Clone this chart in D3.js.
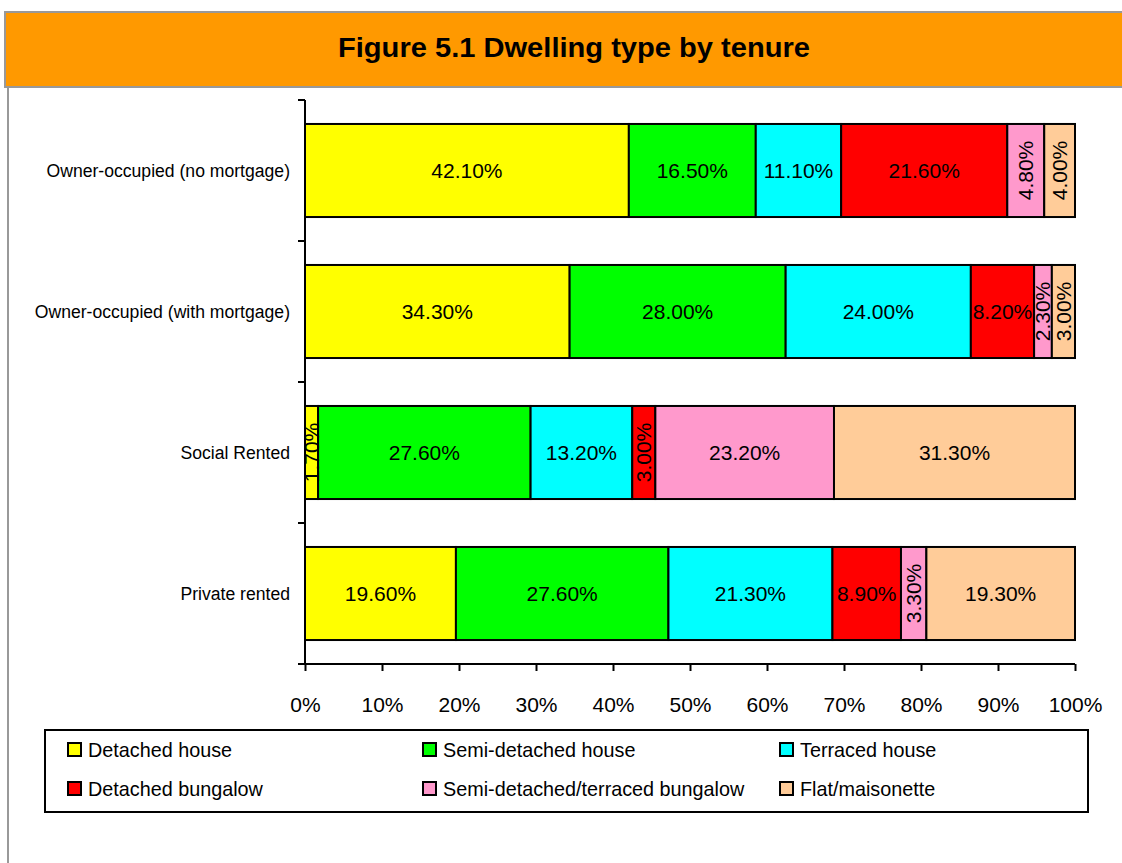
<!DOCTYPE html>
<html lang="en">
<head>
<meta charset="UTF-8">
<title>Dwelling type by tenure</title>
<script src="https://d3js.org/d3.v7.min.js"></script>
<style>
    body{ margin:0; background:#fff; }
    text{ font-family: Arial, "Liberation Sans", sans-serif; }
</style>
</head>
<body>
<svg id="chart" width="1122" height="863"></svg>
<script>
    // data
    let tenures = ["Owner-occupied (no mortgage)", "Owner-occupied (with mortgage)", "Social Rented", "Private rented"];
    let dwellingTypes = ["Detached house", "Semi-detached house", "Terraced house",
        "Detached bungalow", "Semi-detached/terraced bungalow", "Flat/maisonette"];
    let colours = ["#FFFF00", "#00FF00", "#00FFFF", "#FF0000", "#FF99CC", "#FFCC99"];
    let detached     = [42.1, 34.3, 1.7, 19.6];
    let semiDetached = [16.5, 28.0, 27.6, 27.6];
    let terraced     = [11.1, 24.0, 13.2, 21.3];
    let detBungalow  = [21.6, 8.2, 3.0, 8.9];
    let semiBungalow = [4.8, 2.3, 23.2, 3.3];
    let flat         = [4.0, 3.0, 31.3, 19.3];
    let xTicks = [0, 0.1, 0.2, 0.3, 0.4, 0.5, 0.6, 0.7, 0.8, 0.9, 1];

    let series = [detached, semiDetached, terraced, detBungalow, semiBungalow, flat];

    let svg = d3.select("#chart");

    // header band
    svg.append("rect")
        .attr("x", 5).attr("y", 12)
        .attr("width", 1130).attr("height", 75)
        .attr("fill", "#FF9900")
        .attr("stroke", "#999").attr("stroke-width", 2);
    svg.append("line")
        .attr("x1", 8).attr("x2", 8).attr("y1", 87).attr("y2", 863)
        .attr("stroke", "#999").attr("stroke-width", 2);
    svg.append("text")
        .attr("x", 574).attr("y", 57)
        .attr("text-anchor", "middle")
        .attr("font-size", 28).attr("font-weight", "bold")
        .attr("textLength", 472).attr("lengthAdjust", "spacingAndGlyphs")
        .text("Figure 5.1 Dwelling type by tenure");

    // scales
    let x = d3.scaleLinear().domain([0, 1]).range([305, 1075]);
    let y = d3.scaleBand().domain(tenures).range([100, 664]).paddingInner(0.34).paddingOuter(0.17);

    // rows as table, normalised to 100%
    let rows = tenures.map(function (t, i) {
        let row = {tenure: t};
        let total = d3.sum(series, s => s[i]);
        dwellingTypes.forEach(function (k, j) {
            row[k] = series[j][i] / total;
            row["raw_" + k] = series[j][i];
        });
        return row;
    });

    let stack = d3.stack().keys(dwellingTypes)(rows);

    let layers = svg.append("g").selectAll("g")
        .data(stack)
        .join("g")
        .attr("fill", (d, i) => colours[i]);

    layers.selectAll("rect")
        .data(d => d)
        .join("rect")
        .attr("x", d => x(d[0]))
        .attr("width", d => x(d[1]) - x(d[0]))
        .attr("y", d => y(d.data.tenure))
        .attr("height", y.bandwidth())
        .attr("stroke", "#000")
        .attr("stroke-width", 2);

    // data labels
    stack.forEach(function (layer) {
        layer.forEach(function (d) {
            let v = d.data["raw_" + layer.key];
            let cx = (x(d[0]) + x(d[1])) / 2;
            let cy = y(d.data.tenure) + y.bandwidth() / 2;
            let t = svg.append("text")
                .attr("font-size", 21)
                .attr("text-anchor", "middle")
                .attr("dy", "0.35em")
                .text(v.toFixed(2) + "%");
            if (v < 5) {
                t.attr("transform", "translate(" + cx + "," + cy + ") rotate(-90)");
            } else {
                t.attr("x", cx).attr("y", cy);
            }
        });
    });

    // y axis
    let yAxis = svg.append("g");
    yAxis.append("line")
        .attr("x1", 305).attr("x2", 305).attr("y1", 100).attr("y2", 664)
        .attr("stroke", "#000").attr("stroke-width", 2);
    let bounds = tenures.map(t => y(t) - y.step() * y.paddingInner() / 2);
    bounds.push(664);
    yAxis.selectAll(".ytick")
        .data(bounds)
        .join("line")
        .attr("x1", 298).attr("x2", 305)
        .attr("y1", d => d).attr("y2", d => d)
        .attr("stroke", "#000").attr("stroke-width", 2);
    yAxis.selectAll(".ylab")
        .data(tenures)
        .join("text")
        .attr("x", 290)
        .attr("y", d => y(d) + y.bandwidth() / 2)
        .attr("dy", "0.35em")
        .attr("text-anchor", "end")
        .attr("font-size", 17.6)
        .text(d => d);

    // x axis
    let xAxis = svg.append("g").attr("transform", "translate(0,664)")
        .call(d3.axisBottom(x).tickValues(xTicks).tickFormat(d3.format(".0%")).tickSize(7).tickPadding(26));
    xAxis.select(".domain").remove();
    xAxis.append("line").attr("x1", 298).attr("x2", 1075).attr("stroke", "#000").attr("stroke-width", 2);
    xAxis.selectAll(".tick line").attr("stroke-width", 2);
    xAxis.selectAll(".tick text").attr("font-size", 21).attr("font-family", "Arial, 'Liberation Sans', sans-serif").attr("fill", "#000");

    // legend
    let legend = svg.append("g");
    legend.append("rect")
        .attr("x", 45).attr("y", 730).attr("width", 1043).attr("height", 82)
        .attr("fill", "#fff").attr("stroke", "#000").attr("stroke-width", 2);
    let legX = [68, 423, 780];
    let legY = [750, 789];
    dwellingTypes.forEach(function (k, i) {
        let lx = legX[i % 3], ly = legY[Math.floor(i / 3)];
        legend.append("rect")
            .attr("x", lx).attr("y", ly - 7).attr("width", 13).attr("height", 13)
            .attr("fill", colours[i]).attr("stroke", "#000").attr("stroke-width", 2);
        legend.append("text")
            .attr("x", lx + 20).attr("y", ly)
            .attr("dy", "0.35em")
            .attr("font-size", 19.8)
            .text(k);
    });
</script>
</body>
</html>
